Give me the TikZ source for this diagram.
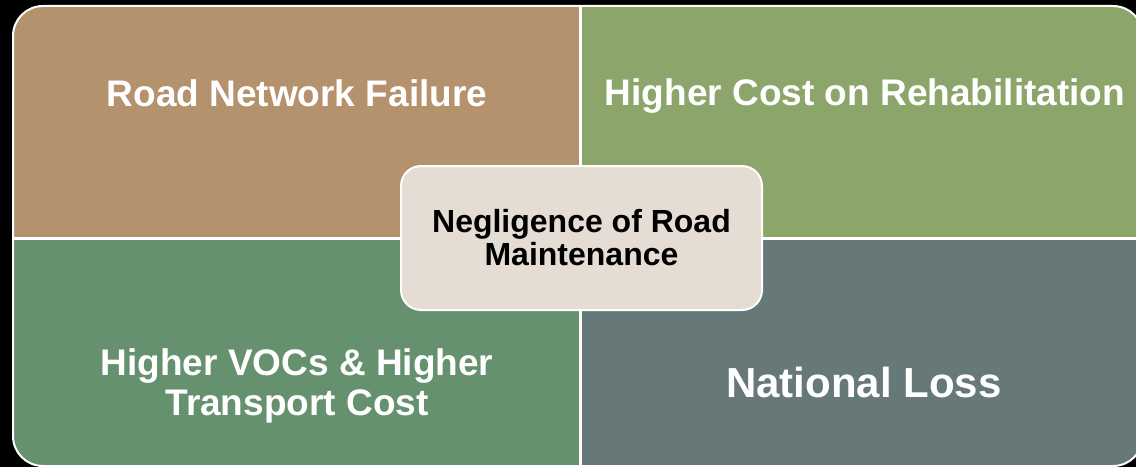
\documentclass[tikz,border=0pt]{standalone}
\usepackage{fontspec}
\setmainfont{Liberation Sans}
\definecolor{roadbrown}{HTML}{B5926E}
\definecolor{costgreen}{HTML}{8CA56B}
\definecolor{vocgreen}{HTML}{66916F}
\definecolor{lossslate}{HTML}{667878}
\definecolor{coreback}{HTML}{E5DDD3}
\tikzset{
  quadtext/.style={text=white,font=\bfseries\fontsize{18.5}{20}\selectfont,align=center},
  corebox/.style={draw=white,line width=1pt,fill=coreback,rounded corners=10pt,
    minimum width=180.5pt,minimum height=72pt,align=center,
    font=\bfseries\fontsize{16}{16.5}\selectfont}
}
\begin{document}
\begin{tikzpicture}[x=0.5pt,y=0.5pt]
\useasboundingbox (0,0) rectangle (1136,467);
\fill[black] (0,0) rectangle (1136,467);
\clip (0,0) rectangle (1136,467);
% quadrants
\begin{scope}
\clip[rounded corners=15pt] (13,1) rectangle (1143,461);
\fill[roadbrown] (13,229) rectangle (580,461);
\fill[costgreen] (580,229) rectangle (1143,461);
\fill[vocgreen] (13,1) rectangle (580,229);
\fill[lossslate] (580,1) rectangle (1143,229);
\end{scope}
\draw[white,line width=1pt,rounded corners=15pt] (13,1) rectangle (1143,461);
\draw[white,line width=1.5pt] (580,1) -- (580,461);
\draw[white,line width=1.5pt] (13,229) -- (1143,229);
% labels
\node[quadtext] (fail) at (297,374) {Road Network Failure};
\node[quadtext] (rehab) at (865,371) {Higher Cost on Rehabilitation};
\node[quadtext] (voc) at (297,81) {Higher VOCs \& Higher\\Transport Cost};
\node[quadtext,font=\bfseries\fontsize{21}{24}\selectfont] (loss) at (864,85) {National Loss};
% centre
\node[corebox] (neglect) at (581.5,229) {Negligence of Road\\Maintenance};
\end{tikzpicture}
\end{document}
